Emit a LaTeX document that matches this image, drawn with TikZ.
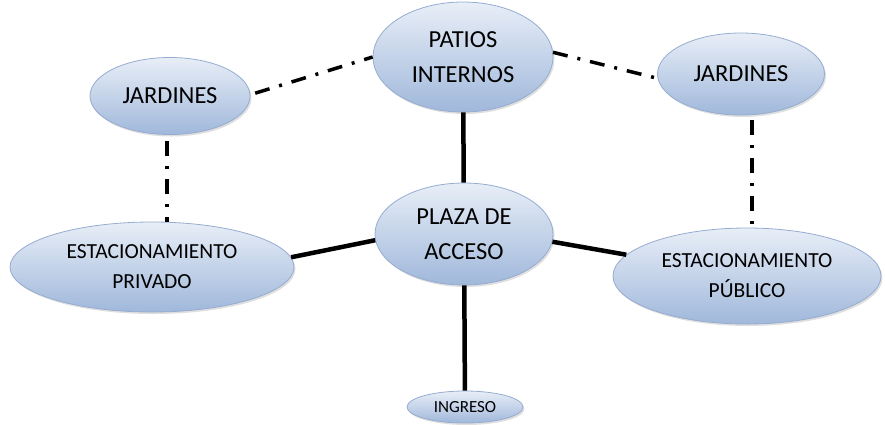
\documentclass[tikz,border=0pt]{standalone}
\usepackage{fontspec}
\setmainfont{Carlito}
\usetikzlibrary{shapes.geometric,shadows,calc}
\definecolor{topc}{RGB}{232,238,247}
\definecolor{botc}{RGB}{160,184,219}
\definecolor{edgec}{RGB}{150,172,208}
\begin{document}
\begin{tikzpicture}[x=1pt,y=-1pt,
  bub/.style={ellipse, inner sep=0pt, shading=axis, top color=topc, bottom color=botc,
    draw=edgec, line width=0.8pt, align=center, text=black,
    drop shadow={opacity=0.25, shadow xshift=1.5pt, shadow yshift=-2pt}},
  bigtxt/.style={font=\fontsize{24.5}{35}\selectfont},
  midtxt/.style={font=\fontsize{21.5}{30}\selectfont},
  smalltxt/.style={font=\fontsize{17}{19}\selectfont},
  solidlink/.style={line width=4.5pt, black},
  dashlink/.style={line width=3.5pt, black, dash pattern=on 15pt off 10pt on 3pt off 10pt}]
\useasboundingbox (0,0) rectangle (885,424);

\node[bub, bigtxt, minimum width=180pt, minimum height=110pt] (patios) at (463,57) {PATIOS\\INTERNOS};
\node[bub, bigtxt, minimum width=160pt, minimum height=77pt] (jardL) at (170,96) {JARDINES};
\node[bub, bigtxt, minimum width=167pt, minimum height=82pt] (jardR) at (741,74) {JARDINES};
\node[bub, bigtxt, minimum width=178pt, minimum height=102pt] (plaza) at (464,234) {PLAZA DE\\ACCESO};
\node[bub, midtxt, minimum width=284pt, minimum height=90pt] (estPriv) at (152,267) {ESTACIONAMIENTO\\PRIVADO};
\node[bub, midtxt, minimum width=268pt, minimum height=96pt] (estPub) at (747,276) {ESTACIONAMIENTO\\PÚBLICO};
\node[bub, smalltxt, minimum width=116pt, minimum height=32pt] (ingreso) at (465,407) {INGRESO};

% solid connectors
\draw[solidlink] (patios) -- (plaza);
\draw[solidlink] (plaza.184) -- (estPriv.4);
\draw[solidlink] (plaza.355) -- (estPub.170);
\draw[solidlink] (plaza) -- (ingreso);

% dash-dot connectors
\draw[dashlink] ([xshift=5pt]jardL.2) -- (patios.180);
\draw[dashlink] (patios.3) -- (jardR.183);
\draw[dashlink] ([shift={(-3pt,-6pt)}]jardL.south) -- ([xshift=-3pt]jardL.south |- estPriv.north);
\draw[dashlink] ([shift={(11pt,-5pt)}]jardR.south) -- ([xshift=11pt]jardR.south |- estPub.north);
\end{tikzpicture}
\end{document}
